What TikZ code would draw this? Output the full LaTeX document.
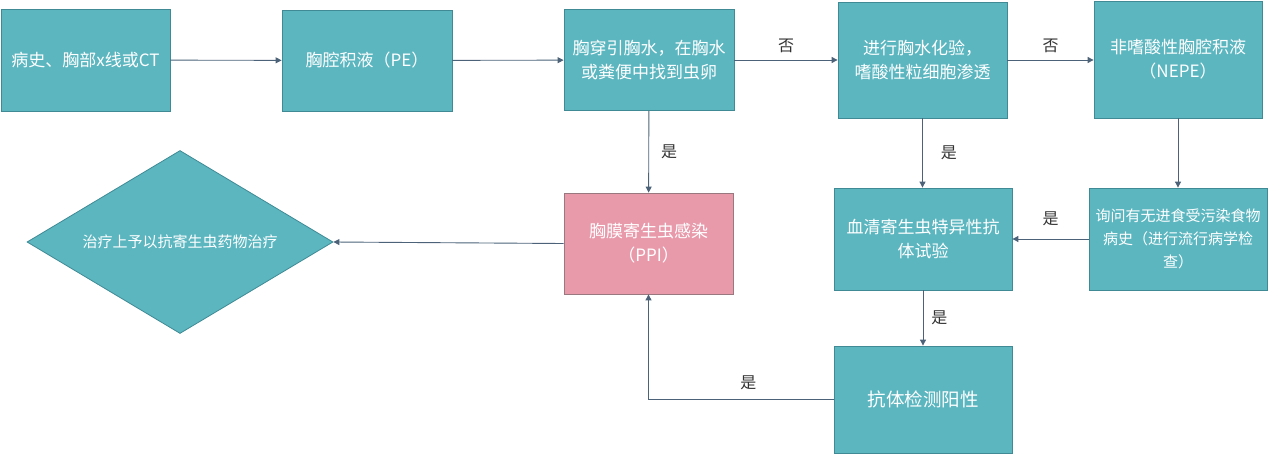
\documentclass[tikz,border=0pt]{standalone}
\usepackage{fontspec}
\setmainfont{Noto Sans CJK SC}
\usetikzlibrary{shapes.geometric,arrows.meta}
\definecolor{teal1}{HTML}{5BB6C0}
\definecolor{tealb}{HTML}{3F8A94}
\definecolor{pink1}{HTML}{E89AAA}
\definecolor{pinkb}{HTML}{9A7880}
\definecolor{arr}{HTML}{4C6278}
\definecolor{lbl}{HTML}{333333}
\tikzset{
  box/.style={rectangle, draw=tealb, fill=teal1, line width=0.8pt, text=white, inner sep=0pt, align=center, font=\fontsize{17}{24}\selectfont},
  pbox/.style={box, draw=pinkb, fill=pink1},
  conn/.style={draw=arr, line width=0.9pt, -{Triangle[width=6pt,length=6pt]}},
  lab/.style={text=lbl, font=\fontsize{16}{18}\selectfont, inner sep=0pt},
}
\begin{document}
\begin{tikzpicture}[x=1pt,y=-1pt]
\useasboundingbox (0,0) rectangle (1269,455);
\node[box, minimum width=169pt, minimum height=102pt] (b1) at (85.5,60) {病史、胸部x线或CT};
\node[box, minimum width=170pt, minimum height=101pt] (b2) at (367,60.5) {胸腔积液（PE）};
\node[box, minimum width=170pt, minimum height=101pt] (b3) at (649,60) {胸穿引胸水，在胸水\\或粪便中找到虫卵};
\node[box, minimum width=169pt, minimum height=116pt] (b4) at (922.5,60) {进行胸水化验，\\嗜酸性粒细胞渗透};
\node[box, minimum width=168pt, minimum height=117pt] (b5) at (1178,59.5) {非嗜酸性胸腔积液\\（NEPE）};
\node[box, minimum width=178pt, minimum height=102pt, font=\fontsize{15}{23}\selectfont] (b6) at (1178,239) {询问有无进食受污染食物\\病史（进行流行病学检\\查）};
\node[box, minimum width=178pt, minimum height=102pt] (b7) at (923,239) {血清寄生虫特异性抗\\体试验};
\node[box, minimum width=178pt, minimum height=107pt, font=\fontsize{18.5}{22}\selectfont] (b8) at (923,399.5) {抗体检测阳性};
\node[pbox, minimum width=169pt, minimum height=101pt] (b9) at (648.5,243.5) {胸膜寄生虫感染\\（PPI）};
\node[diamond, draw=tealb, fill=teal1, line width=0.8pt, text=white, inner sep=0pt, aspect=1.67, minimum width=306pt, minimum height=183pt, font=\fontsize{15}{18}\selectfont] (d) at (180,242) {治疗上予以抗寄生虫药物治疗};

\draw[conn] (b1) -- (b2);
\draw[conn] (b2) -- (b3);
\draw[conn] (b3) -- (b4) node[lab, midway, above=7pt] {否};
\draw[conn] (b4.east|-b3.east) -- (b5.west|-b3.east) node[lab, midway, above=7pt] {否};
\draw[conn] (b3) -- (b9) node[lab, midway, right=12pt] {是};
\draw[conn] (b4) -- (b7.north-|b4) node[lab, midway, right=18pt] {是};
\draw[conn] (b5) -- (b6);
\draw[conn] (b6) -- (b7) node[lab, midway, above=13pt] {是};
\draw[conn] (b7) -- (b8) node[lab, midway, right=8pt] {是};
\draw[conn] (b8.west) -| (b9.south) node[lab, pos=0.23, above=9pt] {是};
\draw[conn] (b9.west) -- (d.east);
\end{tikzpicture}
\end{document}
